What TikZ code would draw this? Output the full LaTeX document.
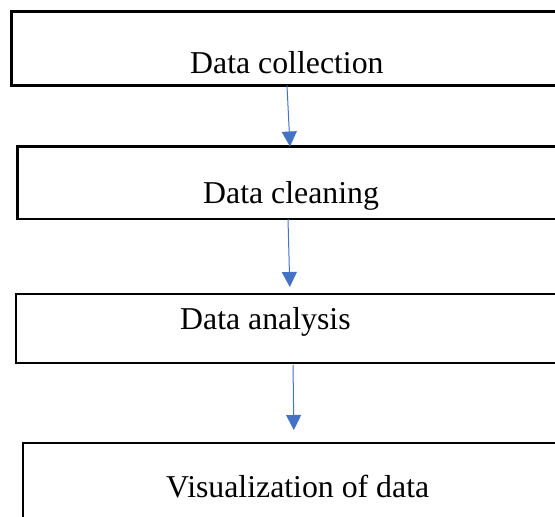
\documentclass[tikz,border=0pt]{standalone}
\usepackage{fontspec}
\setmainfont{Liberation Serif}
\definecolor{FlowBlue}{RGB}{68,114,196}
\usetikzlibrary{arrows.meta,positioning}

\begin{document}
\begin{tikzpicture}[
  x=1pt,y=-1pt,
  stepbox/.style={
    draw=black,
    line width=2.6pt,
    outer sep=0pt,
    inner sep=0pt,
    anchor=north west,
    minimum width=620pt
  },
  steptext/.style={
    anchor=base west,
    inner sep=0pt,
    font=\fontsize{31.8}{38}\selectfont
  },
  arrow/.style={-{Triangle[length=15pt,width=15pt]},line width=1pt,FlowBlue}
]
\useasboundingbox (0,0) rectangle (555,517);
\clip (0,0) rectangle (555,517);
\node[stepbox,minimum height=74pt] (collect) at (11.5,11.5) {};
\node[stepbox,minimum height=72.5pt] (clean) at (17.5,146.5) {};
\node[stepbox,minimum height=69pt] (analyse) at (16,294) {};
\node[stepbox,minimum height=120pt] (visual) at (23,443) {};
\node[steptext] (collecttext) at (190,73) {Data collection};
\node[steptext] (cleantext) at (203,203) {Data cleaning};
\node[steptext] (analysetext) at (180,329) {Data analysis};
\node[steptext] (visualtext) at (166,497) {Visualization of data};
\draw[arrow] (collect.south -| 287,0) -- (clean.north -| 290,0);
\draw[arrow,shorten >=7pt] (clean.south -| 288,0) -- (analyse.north -| 290,0);
\draw[arrow,shorten <=2pt,shorten >=13pt] (analyse.south -| 293,0) -- (visual.north -| 294,0);
\end{tikzpicture}
\end{document}
